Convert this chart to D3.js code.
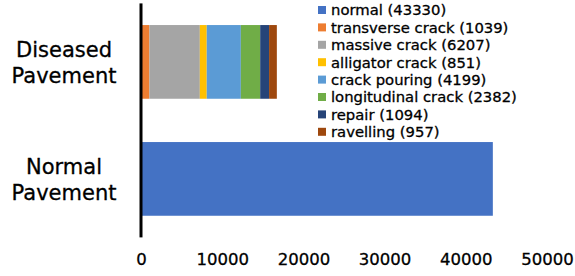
<!DOCTYPE html>
<html lang="en">
<head>
  <meta charset="UTF-8">
  <title>Pavement dataset</title>
  <script src="https://d3js.org/d3.v7.min.js"></script>
  <style>
    body { margin: 0; background: #fff; }
    text { font-family: "DejaVu Sans", sans-serif; fill: #000; stroke: #000; stroke-width: 0.3px; }
  </style>
</head>
<body>
  <script>
    var width = 575;
    var height = 276;

    // data
    var categories = ["Diseased Pavement", "Normal Pavement"];
    var classes = ["normal", "transverse crack", "massive crack", "alligator crack",
                   "crack pouring", "longitudinal crack", "repair", "ravelling"];
    var counts = [43330, 1039, 6207, 851, 4199, 2382, 1094, 957];
    // which bar each class belongs to
    var barOf = ["Normal Pavement", "Diseased Pavement", "Diseased Pavement", "Diseased Pavement",
                 "Diseased Pavement", "Diseased Pavement", "Diseased Pavement", "Diseased Pavement"];
    var ticks = [0, 10000, 20000, 30000, 40000, 50000];
    var colors = ["#4472C4", "#ED7D31", "#A5A5A5", "#FFC000",
                  "#5B9BD5", "#70AD47", "#264478", "#9E480E"];

    var svg = d3.select("body").append("svg")
      .attr("width", width)
      .attr("height", height);

    var x = d3.scaleLinear().domain([0, 50000]).range([141, 547]);
    var y = d3.scaleBand().domain(categories).range([3.4, 237.4])
      .paddingInner(0.37).paddingOuter(0.185);
    var color = d3.scaleOrdinal().domain(classes).range(colors);

    // stack the segments per bar
    var start = {};
    var segs = classes.map(function(c, i) {
      var b = barOf[i];
      var s = start[b] || 0;
      start[b] = s + counts[i];
      return { name: c, bar: b, x0: s, x1: s + counts[i] };
    });

    svg.append("g").selectAll("rect")
      .data(segs)
      .enter().append("rect")
      .attr("x", function(d) { return x(d.x0); })
      .attr("width", function(d) { return x(d.x1) - x(d.x0); })
      .attr("y", function(d) { return y(d.bar); })
      .attr("height", y.bandwidth())
      .attr("fill", function(d) { return color(d.name); });

    // x axis: labels only
    var xAxis = d3.axisBottom(x).tickValues(ticks).tickSize(0).tickPadding(0)
      .tickFormat(d3.format("d"));
    var gx = svg.append("g").attr("transform", "translate(0,265)").call(xAxis);
    gx.select(".domain").remove();
    gx.selectAll("text")
      .attr("dy", null)
      .style("font-size", "16.5px")
      .style("font-family", '"DejaVu Sans", sans-serif');

    // y axis line
    svg.append("line")
      .attr("x1", x(0)).attr("x2", x(0))
      .attr("y1", y.range()[0]).attr("y2", y.range()[1])
      .attr("stroke", "#000").attr("stroke-width", 3);

    // category labels on two lines
    svg.append("g").selectAll("text")
      .data(categories)
      .enter().append("text")
      .attr("text-anchor", "middle")
      .style("font-size", "21px")
      .attr("transform", function(d) {
        return "translate(64," + (y(d) + y.bandwidth() / 2) + ")";
      })
      .selectAll("tspan")
      .data(function(d) { return d.split(" "); })
      .enter().append("tspan")
      .attr("x", 0)
      .attr("y", function(d, i) { return i === 0 ? -5 : 21; })
      .text(function(d) { return d; });

    // legend
    var legend = svg.append("g").selectAll("g")
      .data(classes)
      .enter().append("g")
      .attr("transform", function(d, i) { return "translate(318," + (10 + i * 17.4) + ")"; });
    legend.append("rect")
      .attr("x", 0).attr("y", -4)
      .attr("width", 8).attr("height", 8)
      .attr("fill", function(d) { return color(d); });
    legend.append("text")
      .attr("x", 13).attr("dy", "0.36em")
      .style("font-size", "14.8px")
      .text(function(d, i) { return d + " (" + counts[i] + ")"; });
  </script>
</body>
</html>
